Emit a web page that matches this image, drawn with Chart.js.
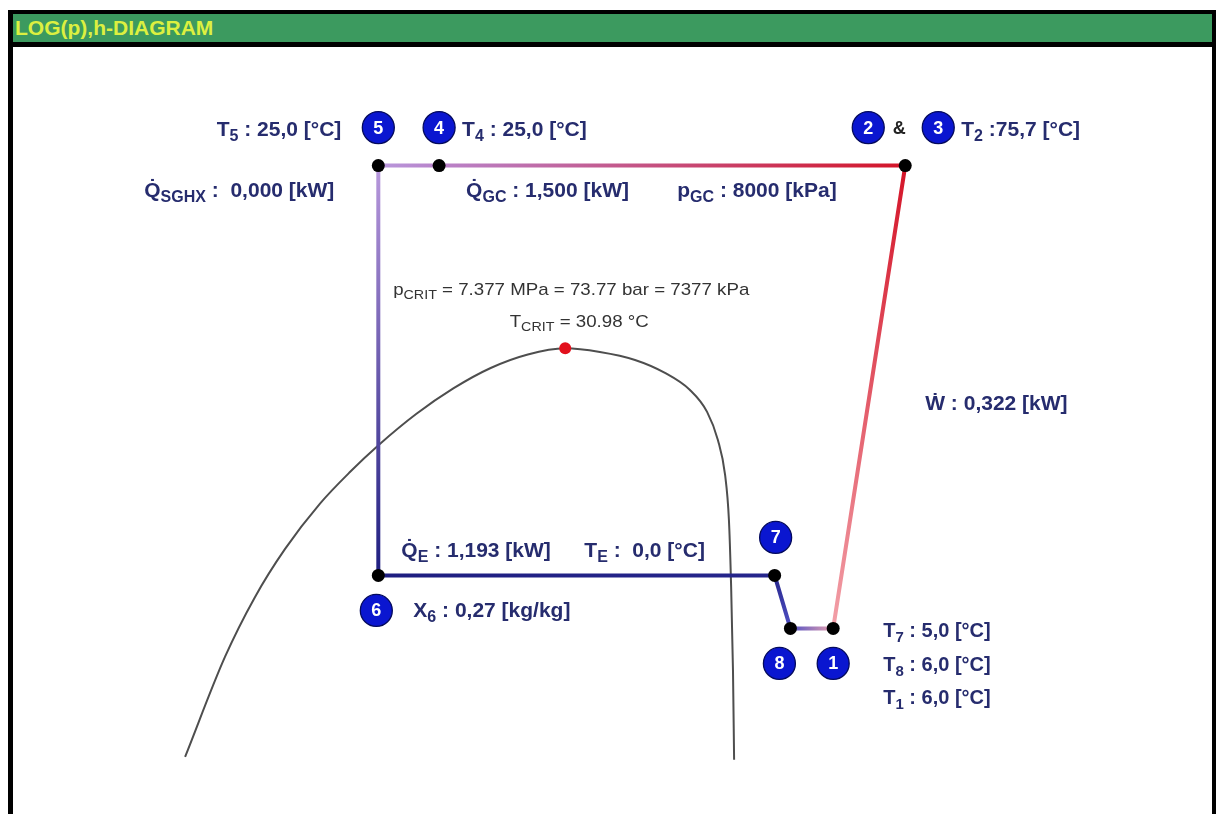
<!DOCTYPE html>
<html>
<head>
<meta charset="utf-8">
<title>LOG(p),h-DIAGRAM</title>
<script src="https://cdn.jsdelivr.net/npm/chart.js@4.4.1/dist/chart.umd.min.js"></script>
<style>
  html, body { margin: 0; padding: 0; width: 1216px; height: 814px; overflow: hidden; background: #fff; }
  #frame { position: absolute; left: 8px; top: 10px; width: 1208px; height: 820px; background: #000; }
  #titlebar { position: absolute; left: 13px; top: 14px; width: 1199px; height: 28px; background: #3c9a5f;
              font: bold 21px "Liberation Sans", Arial, sans-serif; color: #dcf040; line-height: 28px; }
  #titlebar span { position: absolute; left: 2px; top: 0; }
  #panel { position: absolute; left: 13px; top: 47px; width: 1199px; height: 780px; background: #fff; }
  #plot { position: absolute; left: 0; top: 0; }
</style>
</head>
<body>
<div id="frame"></div>
<div id="titlebar"><span>LOG(p),h-DIAGRAM</span></div>
<div id="panel"></div>
<canvas id="plot" width="1216" height="814"></canvas>
<script>
// ---- Cycle state points 1..8 : specific enthalpy h [kJ/kg], pressure p [kPa]
const stateNo = [1, 2, 3, 4, 5, 6, 7, 8];
const stateH  = [450, 482, 482, 275, 248, 248, 424, 431];
const stateP  = [6515, 8000, 8000, 8000, 8000, 6670, 6670, 6515];
const stateT  = [6.0, 75.7, 75.7, 25.0, 25.0, 0.0, 5.0, 6.0];   // [°C]

// ---- Saturation dome of CO2 (liquid branch -> critical point -> vapour branch)
const domeH = [162.2, 179.9, 193.2, 206.6, 222.1, 235.4, 248.3, 264.8, 281.3, 297.9, 314.4, 331,
               346.4, 362, 375.3, 386.4, 394, 398.8, 402, 403.7, 404.6, 405.5, 406];
const domeP = [6154, 6433, 6606, 6749, 6886, 6983, 7068, 7165, 7247, 7313, 7357, 7377,
               7365, 7339, 7297, 7242, 7172, 7083, 6974, 6836, 6656, 6396, 6146];

// ---- Critical point
const critH = 331;
const critP = 7377;      // kPa
const critT = 30.98;     // °C

// ---- Cycle results
const dutyNames = ['SGHX', 'GC', 'E'];
const dutyKW    = [0.000, 1.500, 1.193];
const workKW    = 0.322;
const pGC       = 8000;  // kPa
const TE        = 0.0;   // °C
const x6        = 0.27;  // kg/kg

// Cycle path (state numbers) with start/end colours of each leg
const legFrom  = [1, 2, 4, 5, 6, 7, 8];
const legTo    = [2, 4, 5, 6, 7, 8, 1];
const legColA  = ['#f2a0a8', '#d41428', '#b983ca', '#b898dc', '#1e1e80', '#26268c', '#5050c4'];
const legColB  = ['#d41428', '#b983ca', '#b898dc', '#1e1e80', '#26268c', '#5050c4', '#e8a2b0'];

const FONT = '"Liberation Sans", Arial, sans-serif';
const INK = '#262c6e';
const fmt = (v, d) => v.toFixed(d).replace('.', ',');
const idx = n => stateNo.indexOf(n);

function legGradient(chart, i) {
  const a = idx(legFrom[i]), b = idx(legTo[i]);
  if (!chart.chartArea) return legColA[i];
  const sx = chart.scales.x, sy = chart.scales.y;
  const g = chart.ctx.createLinearGradient(
    sx.getPixelForValue(stateH[a]), sy.getPixelForValue(stateP[a]),
    sx.getPixelForValue(stateH[b]), sy.getPixelForValue(stateP[b]));
  g.addColorStop(0, legColA[i]);
  g.addColorStop(1, legColB[i]);
  return g;
}

const legSets = legFrom.map((f, i) => ({
  data: [{ x: stateH[idx(f)], y: stateP[idx(f)] }, { x: stateH[idx(legTo[i])], y: stateP[idx(legTo[i])] }],
  showLine: true, pointRadius: 0, borderWidth: 4, borderCapStyle: 'round',
  borderColor: c => legGradient(c.chart, i), order: 1
}));

// Draws text runs: [text, kind] with kind 0 = normal, 1 = subscript
function rich(g, parts, x, y, align, st) {
  const sx = st.sx || 1;
  const fonts = parts.map(p => (st.weight + ' ' + (p[1] ? st.sub : st.size) + 'px ' + FONT));
  let w = 0;
  const widths = parts.map((p, k) => { g.font = fonts[k]; const m = g.measureText(p[0]).width; w += m; return m; });
  const left = align === 'right' ? x - w * sx : align === 'center' ? x - w * sx / 2 : x;
  g.save();
  g.translate(left, y);
  g.scale(sx, 1);
  g.fillStyle = st.color;
  g.textBaseline = 'alphabetic';
  g.textAlign = 'left';
  let cx = 0;
  parts.forEach((p, k) => {
    g.font = fonts[k];
    g.fillText(p[0], cx, p[1] ? st.dy : 0);
    cx += widths[k];
  });
  g.restore();
}

const BOLD  = { weight: 'bold', size: 21, sub: 16, dy: 5, color: INK };
const BOLDS = { weight: 'bold', size: 20, sub: 15, dy: 5, color: INK };
const THIN  = { weight: 'normal', size: 17, sub: 13, dy: 4, color: '#333', sx: 1.1 };

const annotate = {
  id: 'annotate',
  afterDatasetsDraw(chart) {
    const g = chart.ctx;
    const X = h => chart.scales.x.getPixelForValue(h);
    const Y = p => chart.scales.y.getPixelForValue(p);
    const pt = n => ({ x: X(stateH[idx(n)]), y: Y(stateP[idx(n)]) });
    const T = n => fmt(stateT[idx(n)], 1);
    g.save();

    // numbered state badges
    const badges = [['5', 5, 0, -38], ['4', 4, 0, -38], ['2', 2, -37, -38], ['3', 3, 33, -38],
                    ['7', 7, 1, -38], ['6', 6, -2, 35], ['8', 8, -11, 35], ['1', 1, 0, 35]];
    const bpos = {};
    badges.forEach(([t, n, dx, dy]) => {
      const p = pt(n), cx = p.x + dx, cy = p.y + dy;
      bpos[t] = { x: cx, y: cy };
      g.beginPath();
      g.arc(cx, cy, 16, 0, Math.PI * 2);
      g.fillStyle = '#0a16d0';
      g.fill();
      g.lineWidth = 1.3;
      g.strokeStyle = '#040a5c';
      g.stroke();
      g.fillStyle = '#fff';
      g.font = 'bold 18px ' + FONT;
      g.textAlign = 'center';
      g.textBaseline = 'middle';
      g.fillText(t, cx, cy + 1);
    });
    g.fillStyle = '#222';
    g.font = 'bold 18px ' + FONT;
    g.textAlign = 'center';
    g.textBaseline = 'middle';
    g.fillText('&', pt(2).x - 6, pt(2).y - 37);

    // temperatures at the badges
    rich(g, [['T', 0], ['5', 1], [' : ' + T(5) + ' [°C]', 0]], bpos['5'].x - 37, bpos['5'].y + 8, 'right', BOLD);
    rich(g, [['T', 0], ['4', 1], [' : ' + T(4) + ' [°C]', 0]], bpos['4'].x + 23, bpos['4'].y + 8, 'left', BOLD);
    rich(g, [['T', 0], ['2', 1], [' :' + T(2) + ' [°C]', 0]], bpos['3'].x + 23, bpos['3'].y + 8, 'left', BOLD);

    // heat rates and pressure on the gas cooler line
    const p5 = pt(5), p4 = pt(4), p2 = pt(2), p6 = pt(6), p1 = pt(1);
    rich(g, [['Q\u0307', 0], [dutyNames[0], 1], [' :  ' + fmt(dutyKW[0], 3) + ' [kW]', 0]], p5.x - 44, p5.y + 31, 'right', BOLD);
    rich(g, [['Q\u0307', 0], [dutyNames[1], 1], [' : ' + fmt(dutyKW[1], 3) + ' [kW]', 0]], p4.x + 27, p4.y + 31, 'left', BOLD);
    rich(g, [['p', 0], ['GC', 1], [' : ' + pGC + ' [kPa]', 0]], p2.x - 228, p2.y + 31, 'left', BOLD);

    // critical point data
    const c = { x: X(critH), y: Y(critP) };
    rich(g, [['p', 0], ['CRIT', 1], [' = ' + (critP / 1000).toFixed(3) + ' MPa = ' + (critP / 100).toFixed(2) + ' bar = ' + critP + ' kPa', 0]],
         c.x + 6, c.y - 53, 'center', THIN);
    rich(g, [['T', 0], ['CRIT', 1], [' = ' + critT.toFixed(2) + ' °C', 0]], c.x + 14, c.y - 21, 'center', THIN);

    // compressor work
    const mid = { x: (p1.x + p2.x) / 2, y: (p1.y + p2.y) / 2 };
    rich(g, [['\u1E86 : ' + fmt(workKW, 3) + ' [kW]', 0]], mid.x + 56, mid.y + 13, 'left', BOLD);

    // evaporator
    rich(g, [['Q\u0307', 0], [dutyNames[2], 1], [' : ' + fmt(dutyKW[2], 3) + ' [kW]', 0]], p6.x + 23, p6.y - 18, 'left', BOLD);
    rich(g, [['T', 0], ['E', 1], [' :  ' + fmt(TE, 1) + ' [°C]', 0]], p6.x + 206, p6.y - 18, 'left', BOLD);
    rich(g, [['X', 0], ['6', 1], [' : ' + fmt(x6, 2) + ' [kg/kg]', 0]], bpos['6'].x + 37, bpos['6'].y + 7, 'left', BOLD);

    // suction side temperatures
    [[7, 0], [8, 33.5], [1, 67]].forEach(([n, dy]) => {
      rich(g, [['T', 0], [String(n), 1], [' : ' + T(n) + ' [°C]', 0]], p1.x + 50, p1.y + 9 + dy, 'left', BOLDS);
    });
    g.restore();
  }
};

const dotStates = [1, 2, 4, 5, 6, 7, 8];

new Chart(document.getElementById('plot'), {
  type: 'scatter',
  data: {
    datasets: [
      { data: dotStates.map(n => ({ x: stateH[idx(n)], y: stateP[idx(n)] })),
        pointRadius: 6.5, pointBackgroundColor: '#000', pointBorderWidth: 0, showLine: false, order: 0 },
      { data: [{ x: critH, y: critP }], pointRadius: 6, pointBackgroundColor: '#e2101c', pointBorderWidth: 0, showLine: false, order: 0 },
      ...legSets,
      { data: domeH.map((h, i) => ({ x: h, y: domeP[i] })), showLine: true, pointRadius: 0,
        borderColor: '#4e4e4e', borderWidth: 2, cubicInterpolationMode: 'monotone', order: 2 }
    ]
  },
  options: {
    responsive: false,
    animation: false,
    devicePixelRatio: 1,
    events: [],
    layout: { padding: 0, autoPadding: false },
    plugins: { legend: { display: false }, tooltip: { enabled: false } },
    scales: {
      x: { type: 'linear', min: 80, max: 620, display: false },
      y: { type: 'logarithmic', min: 6000, max: 8610, display: false }
    }
  },
  plugins: [annotate]
});
</script>
</body>
</html>
